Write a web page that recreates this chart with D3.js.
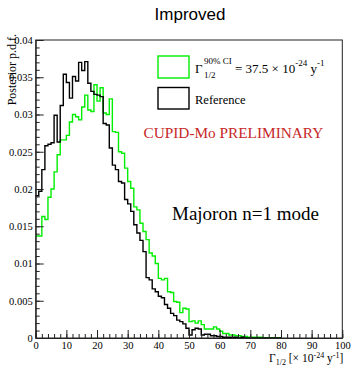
<!DOCTYPE html>
<html>
<head>
<meta charset="utf-8">
<script src="https://cdn.jsdelivr.net/npm/d3@7"></script>
<style>
  body { margin: 0; background: #fff; }
  svg text { font-family: "Liberation Serif", "Times New Roman", serif; }
</style>
</head>
<body>
<div id="chart"></div>
<script>
// histogram contents, bins of width 1 starting at 0
var improved = [0.0137, 0.0137, 0.0163, 0.0159, 0.0189, 0.0200, 0.0223, 0.0246, 0.0266, 0.0266,
  0.0272, 0.0290, 0.0300, 0.0297, 0.0293, 0.0310, 0.0326, 0.0306, 0.0304, 0.0340,
  0.0318, 0.0336, 0.0302, 0.0300, 0.0321, 0.0277, 0.0276, 0.0250, 0.0248, 0.0228,
  0.0210, 0.0201, 0.0176, 0.0172, 0.0154, 0.0143, 0.0132, 0.0114, 0.0110, 0.0100,
  0.0080, 0.0078, 0.0080, 0.0062, 0.0061, 0.0049, 0.0048, 0.0034, 0.0040, 0.0039,
  0.0022, 0.0023, 0.0020, 0.0023, 0.0018, 0.0012, 0.0012, 0.0012, 0.0015, 0.0012,
  0.0009, 0.0006, 0.0006, 0.0004, 0.0004, 0.0003, 0.0003, 0.0002, 0.0002, 0.0001,
  0.0001, 0.0001, 0.0001, 0.0001, 0, 0, 0, 0, 0, 0];

var reference = [0.0191, 0.0197, 0.0226, 0.0258, 0.0260, 0.0262, 0.0299, 0.0263, 0.0312, 0.0354,
  0.0343, 0.0322, 0.0351, 0.0345, 0.0370, 0.0359, 0.0371, 0.0342, 0.0331, 0.0327,
  0.0326, 0.0324, 0.0288, 0.0286, 0.0255, 0.0232, 0.0226, 0.0210, 0.0208, 0.0186,
  0.0180, 0.0170, 0.0152, 0.0141, 0.0131, 0.0116, 0.0081, 0.0078, 0.0066, 0.0062,
  0.0056, 0.0054, 0.0045, 0.0040, 0.0033, 0.0030, 0.0024, 0.0022, 0.0019, 0.0013,
  0.0004, 0.0011, 0.0013, 0.0012, 0.0004, 0.0005, 0.0005, 0.0003, 0.0003, 0.0002,
  0.0002, 0.0001, 0.0001, 0.0001, 0.0001, 0.0001, 0, 0.0001, 0, 0,
  0, 0, 0, 0, 0, 0, 0, 0, 0, 0];

var xTicks = [0, 10, 20, 30, 40, 50, 60, 70, 80, 90, 100];
var yTicks = [0, 0.005, 0.01, 0.015, 0.02, 0.025, 0.03, 0.035, 0.04];

var W = 352, H = 370;
var frame = {left: 35.7, right: 342.3, top: 40, bottom: 338};

var svg = d3.select("#chart").append("svg")
  .attr("width", W)
  .attr("height", H);

var x = d3.scaleLinear().domain([0, 100]).range([frame.left, frame.right]);
var y = d3.scaleLinear().domain([0, 0.04]).range([frame.bottom, frame.top]);

// title
svg.append("text")
  .attr("x", 190).attr("y", 20)
  .attr("text-anchor", "middle")
  .style("font-family", "'Liberation Sans', Arial, sans-serif")
  .style("font-size", "17px")
  .text("Improved");

// frame
svg.append("rect")
  .attr("x", frame.left).attr("y", frame.top)
  .attr("width", frame.right - frame.left).attr("height", frame.bottom - frame.top)
  .attr("fill", "none").attr("stroke", "#222").attr("stroke-width", 1);

// histograms as step outlines
var step = d3.line()
  .x(function(d) { return x(d[0]); })
  .y(function(d) { return y(d[1]); })
  .curve(d3.curveStepAfter);

function pts(arr) {
  var p = arr.map(function(v, i) { return [i, v]; });
  p.push([arr.length, arr[arr.length - 1]]);
  return p;
}

svg.append("path")
  .attr("d", step(pts(improved)))
  .attr("fill", "none").attr("stroke", "#00ee00").attr("stroke-width", 1.4);

svg.append("path")
  .attr("d", step(pts(reference)))
  .attr("fill", "none").attr("stroke", "#000").attr("stroke-width", 1.4);

// axes, ROOT style: ticks pointing inward
var yMinor = d3.range(0, 41).map(function(i) { return i / 1000; });
var xMinor = d3.range(0, 51).map(function(i) { return i * 2; });

svg.append("g")
  .attr("transform", `translate(${frame.left},0)`)
  .call(d3.axisLeft(y).tickValues(yMinor).tickSize(-4).tickSizeOuter(0).tickFormat(""))
  .call(g => g.select(".domain").remove());

svg.append("g")
  .attr("transform", `translate(0,${frame.bottom})`)
  .call(d3.axisBottom(x).tickValues(xMinor).tickSize(-4).tickSizeOuter(0).tickFormat(""))
  .call(g => g.select(".domain").remove());

svg.append("g")
  .attr("transform", `translate(${frame.left},0)`)
  .call(d3.axisLeft(y).tickValues(yTicks).tickSize(-8).tickSizeOuter(0).tickPadding(3)
    .tickFormat(function(d) { return String(d); }));

svg.append("g")
  .attr("transform", `translate(0,${frame.bottom})`)
  .call(d3.axisBottom(x).tickValues(xTicks).tickSize(-8).tickSizeOuter(0).tickPadding(4)
    .tickFormat(function(d) { return String(d); }));

svg.selectAll(".tick text")
  .style("font-family", "'Liberation Serif', 'Times New Roman', serif")
  .style("font-size", "10.5px")
  .attr("fill", "#000");
svg.selectAll(".tick line").attr("stroke", "#222");
svg.selectAll(".domain").attr("stroke", "#222");

// y axis title
svg.append("text")
  .attr("transform", "translate(16,34) rotate(-90)")
  .attr("text-anchor", "end")
  .style("font-size", "12px")
  .text("Posterior p.d.f.");

// x axis title
var xt = svg.append("text")
  .attr("x", frame.right + 1).attr("y", 362)
  .attr("text-anchor", "end")
  .style("font-size", "11.5px");
xt.append("tspan").text("\u0393");
xt.append("tspan").attr("dy", 3).style("font-size", "8px").text("1/2");
xt.append("tspan").attr("dy", -3).text(" [\u00d7 10");
xt.append("tspan").attr("dy", -4).style("font-size", "8px").text("-24");
xt.append("tspan").attr("dy", 4).text(" y");
xt.append("tspan").attr("dy", -4).style("font-size", "8px").text("-1");
xt.append("tspan").attr("dy", 4).text("]");

// legend
svg.append("rect")
  .attr("x", 158).attr("y", 56).attr("width", 31).attr("height", 22)
  .attr("fill", "none").attr("stroke", "#00ee00").attr("stroke-width", 1.4);
svg.append("rect")
  .attr("x", 158).attr("y", 87.5).attr("width", 31).attr("height", 21.5)
  .attr("fill", "none").attr("stroke", "#000").attr("stroke-width", 1.4);

svg.append("text").attr("x", 195).attr("y", 73).style("font-size", "13px").text("\u0393");
svg.append("text").attr("x", 204).attr("y", 64).style("font-size", "9px").text("90% CI");
svg.append("text").attr("x", 204).attr("y", 78).style("font-size", "9px").text("1/2");
var lt = svg.append("text").attr("x", 235).attr("y", 73).style("font-size", "13px");
lt.append("tspan").text("= 37.5 \u00d7 10");
lt.append("tspan").attr("dy", -7).style("font-size", "9px").text("-24");
lt.append("tspan").attr("dy", 7).text(" y");
lt.append("tspan").attr("dy", -7).style("font-size", "9px").text("-1");

svg.append("text").attr("x", 195).attr("y", 104).style("font-size", "12.5px").text("Reference");

// annotations
svg.append("text")
  .attr("x", 143.5).attr("y", 138)
  .attr("fill", "#c62828")
  .style("font-size", "15.3px")
  .text("CUPID-Mo PRELIMINARY");

svg.append("text")
  .attr("x", 172).attr("y", 220)
  .style("font-size", "19px")
  .text("Majoron n=1 mode");
</script>
</body>
</html>
